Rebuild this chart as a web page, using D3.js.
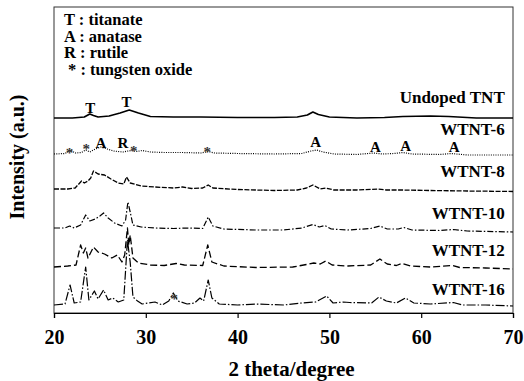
<!DOCTYPE html>
<html>
<head>
<meta charset="utf-8">
<script src="https://cdn.jsdelivr.net/npm/d3@7"></script>
<style>
    body { margin: 0; background: #fff; }
    text { font-family: "Liberation Serif", "Times New Roman", serif; font-weight: bold; fill: #000; }
</style>
</head>
<body>
<script>
// 2 theta values (degree) and intensities (a.u., offset already included)
var undopedX = [20, 22, 23.3, 23.9, 24.3, 24.8, 26, 27.2, 28.2, 29.2, 30.5, 33, 36, 40, 44, 46.5, 47.6, 48.2, 48.8, 50, 53, 56, 58, 61, 63, 66, 70];
var undopedY = [195, 195, 196, 199, 197.5, 196, 197, 200, 203, 200, 196.5, 196, 196, 195.5, 195.5, 196, 198, 201, 198.5, 196, 195, 195.5, 196.5, 197, 196.5, 195, 195];

var wtnt6X = [20, 21.2, 21.8, 22.3, 23.0, 23.45, 23.9, 24.5, 25.1, 25.8, 26.5, 27.5, 28.4, 29.0, 29.6, 30.5, 32, 34, 36, 36.8, 37.5, 40, 44, 47, 48.0, 48.6, 49.3, 50.5, 53, 54.8, 55.8, 57, 58, 59, 62, 63.3, 65, 70];
var wtnt6Y = [159, 159.5, 163, 160, 160.5, 163, 161, 164, 166, 164, 162, 161, 162.5, 161.5, 162.5, 161, 160.5, 160.5, 160, 161.5, 160, 159.5, 159, 159.5, 162, 163, 161, 159, 158.5, 160, 159, 159.5, 160.5, 159, 158.5, 159.5, 158, 158];

var wtnt8X = [20, 21.5, 22.3, 23.0, 23.3, 23.7, 24.0, 24.3, 24.8, 25.5, 26.2, 27.0, 27.6, 27.9, 28.3, 29.5, 31, 33, 34, 35, 36.2, 36.8, 37.3, 40, 44, 46.5, 47.5, 48.2, 49.0, 49.6, 50.5, 53, 55.3, 56.2, 58, 61, 65, 70];
var wtnt8Y = [124, 124, 125, 132, 130, 132, 135, 142, 139, 138, 134, 130, 129, 136, 130, 127, 126, 125, 126, 124.5, 125, 128, 125, 123.5, 122.5, 123, 125, 128, 124, 125, 123, 123, 124, 123, 123, 122.5, 122, 121.5];

var wtnt10X = [20, 21.2, 21.7, 22.2, 22.9, 23.45, 23.9, 24.5, 25.0, 25.4, 25.9, 26.6, 27.4, 27.8, 28.05, 28.3, 28.6, 29.5, 31, 33, 34.5, 36.2, 36.8, 37.3, 38.5, 42, 45, 47, 48.2, 48.9, 49.5, 50.2, 52, 54.5, 55.5, 56.3, 57.5, 58.1, 59, 62, 63.5, 65, 70];
var wtnt10Y = [85, 85, 87, 85, 88, 98, 92, 94, 97, 100, 95, 90, 87, 93, 111, 101, 88, 86, 85, 84.5, 85, 84.5, 96, 87, 84, 83, 83, 85, 88.5, 86, 87.5, 84, 83, 84.5, 87, 84, 84, 85.5, 83, 82.5, 83.5, 82, 81];

var wtnt12X = [20, 21.5, 22.4, 22.9, 23.2, 23.45, 23.7, 24.3, 24.8, 25.5, 26.3, 26.9, 27.4, 27.7, 28.0, 28.15, 28.3, 28.6, 29.2, 30.5, 32, 33.3, 34.2, 36.2, 36.75, 37.2, 38.5, 42, 46, 47.5, 48.3, 49.0, 49.6, 50.3, 52, 54.5, 55.5, 56.3, 57.3, 57.9, 58.8, 61, 63.4, 64.2, 67, 70];
var wtnt12Y = [46, 47, 48, 68, 60, 65, 55, 66, 61, 59, 55, 58, 51, 58, 85, 68, 78, 55, 50, 48, 47.5, 49.5, 48, 47.5, 68, 51, 47, 45.5, 46, 48.5, 50, 49, 52, 48, 47, 48, 54, 49, 47.5, 49.5, 47, 46, 47.5, 45.5, 45, 44];

var wtnt16X = [20, 21.2, 21.75, 22.2, 22.9, 23.45, 23.8, 24.4, 24.8, 25.4, 25.9, 26.4, 27.0, 27.6, 28.0, 28.3, 28.6, 29.1, 29.6, 31.0, 31.8, 32.5, 33.0, 33.5, 34.5, 35.3, 35.9, 36.3, 36.8, 37.2, 38, 40, 42, 45, 47, 48.5, 49.7, 50.4, 51.5, 52.2, 54.6, 55.4, 56.2, 57.3, 58.3, 59.2, 61, 63.5, 64.5, 67, 70];
var wtnt16Y = [8, 9, 28, 10, 11, 46, 13, 22, 14, 23, 13, 15, 11, 13, 73, 51, 16, 12, 9, 11, 8, 12, 20, 12, 9, 10, 15, 12, 33, 15, 9, 8, 9, 8, 10, 11, 17, 10, 11, 10.5, 10, 16, 12, 10, 15, 10, 9, 10.5, 8, 8, 7];

var seriesNames = ["Undoped TNT", "WTNT-6", "WTNT-8", "WTNT-10", "WTNT-12", "WTNT-16"];
var seriesXs = [undopedX, wtnt6X, wtnt8X, wtnt10X, wtnt12X, wtnt16X];
var seriesYs = [undopedY, wtnt6Y, wtnt8Y, wtnt10Y, wtnt12Y, wtnt16Y];
// where each name label sits (intensity of its baseline)
var labelY = [210, 178, 136, 94, 57, 18];

// peak assignments written on the curves
var peakText = ["T", "T", "*", "*", "A", "R", "*", "*", "A", "A", "A", "A", "*"];
var peakX = [23.95, 27.9, 21.7, 23.5, 25.1, 27.5, 28.7, 36.7, 48.5, 55.0, 58.3, 63.6, 33.1];
var peakY = [200, 206, 162, 166, 165, 165, 164, 163, 166, 161, 162, 161, 16];

var legendLines = ["T : titanate", "A : anatase", "R : rutile", "* : tungsten oxide"];
var xTicks = [20, 30, 40, 50, 60, 70];

var margin = { top: 7, right: 11, bottom: 68, left: 54 }
    , width = 524 - margin.left - margin.right
    , height = 381 - margin.top - margin.bottom;

var svg = d3.select("body").append("svg")
    .attr("width", 524)
    .attr("height", 381)
    .append("g")
    .attr("transform", "translate(" + margin.left + "," + margin.top + ")");

var xScale = d3.scaleLinear()
    .domain([20, 70])
    .range([0, width]);

var yScale = d3.scaleLinear()
    .domain([0, 306])
    .range([height, 0]);

// frame
svg.append("rect")
    .attr("width", width)
    .attr("height", height)
    .attr("fill", "none")
    .attr("stroke", "#333")
    .attr("stroke-width", 1);

// x axis
var xAxis = svg.append("g")
    .attr("transform", "translate(0," + height + ")")
    .call(d3.axisBottom(xScale).tickValues(xTicks).tickSize(5).tickPadding(12).tickFormat(d3.format("d")));
xAxis.select(".domain").attr("stroke", "#000").attr("stroke-width", 1.2);
xAxis.selectAll(".tick line").attr("stroke", "#000").attr("stroke-width", 1.2);
xAxis.selectAll("text")
    .attr("font-size", 20)
    .attr("font-family", "Liberation Serif")
    .attr("font-weight", "bold");

svg.append("text")
    .attr("x", width / 2 + 8)
    .attr("y", height + 63)
    .attr("text-anchor", "middle")
    .attr("font-size", 21)
    .text("2 theta/degree");

svg.append("text")
    .attr("transform", "translate(" + (-30) + "," + (height / 2 - 3) + ") rotate(-90)")
    .attr("text-anchor", "middle")
    .attr("font-size", 20)
    .text("Intensity (a.u.)");

// patterns
var dashes = [null, "1,1.3", "5,1.5", "6,2,1.5,2", "7,3", "9,2,1.5,2"];
var widths = [1.7, 1.2, 1.3, 1.2, 1.3, 1.2];

seriesNames.forEach(function (name, k) {
    var pts = seriesXs[k].map(function (x, i) { return [x, seriesYs[k][i]]; });
    svg.append("path")
        .datum(pts)
        .attr("fill", "none")
        .attr("stroke", "#000")
        .attr("stroke-width", widths[k])
        .attr("stroke-dasharray", dashes[k])
        .attr("stroke-linejoin", "round")
        .attr("d", d3.line()
            .x(function (d) { return xScale(d[0]) })
            .y(function (d) { return yScale(d[1]) })
        );
    svg.append("text")
        .attr("x", xScale(69.1))
        .attr("y", yScale(labelY[k]))
        .attr("text-anchor", "end")
        .attr("font-size", 17)
        .text(name);
});

peakText.forEach(function (t, i) {
    svg.append("text")
        .attr("x", xScale(peakX[i]))
        .attr("y", yScale(peakY[i]) + (t == "*" ? 7 : 0))
        .attr("text-anchor", "middle")
        .attr("font-size", t == "*" ? 15 : 15)
        .style("fill", t == "*" ? "#333" : "#000")
        .text(t);
});

legendLines.forEach(function (t, i) {
    svg.append("text")
        .attr("x", i == 3 ? 14 : 10)
        .attr("y", 18 + i * 16.5)
        .attr("font-size", 16.5)
        .text(t);
});
</script>
</body>
</html>
